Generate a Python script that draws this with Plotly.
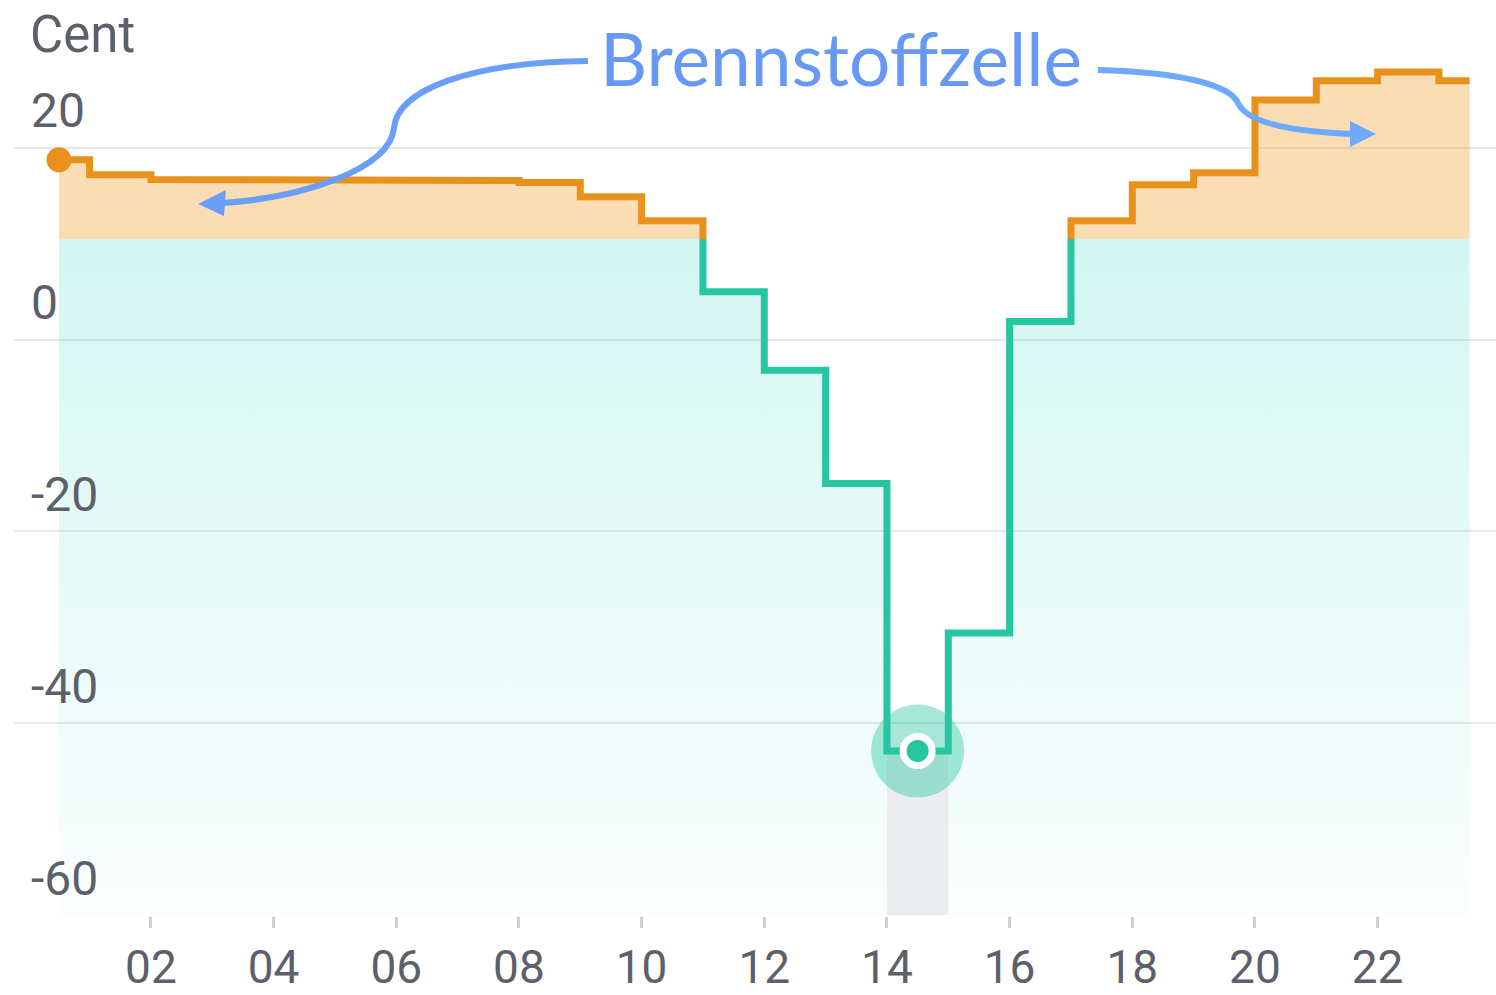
import plotly.graph_objects as go

# hourly price in Cent (step chart), visible window 00:30 - 23:30
hours = list(range(24))
prices = [18.75, 17.2, 16.7, 16.7, 16.7, 16.7, 16.7, 16.6, 16.4, 14.9, 12.4, 5.0,
          -3.2, -15.0, -42.9, -30.6, 1.9, 12.4, 16.15, 17.4, 25.0, 27.0, 27.9, 27.0]
threshold = 10.5          # above -> orange (Brennstoffzelle), below -> green
selected_hour = 14

x_ticks = [2, 4, 6, 8, 10, 12, 14, 16, 18, 20, 22]
x_ticktext = ["02", "04", "06", "08", "10", "12", "14", "16", "18", "20", "22"]
y_ticks = [20, 0, -20, -40, -60]

view_start, view_end = 0.5, 23.5
y_bottom, y_top = -60.1, 35.42

ORANGE = "#E8921C"
GREEN = "#26C6A0"
TEXT = "#5B606B"
BLUE = "#6699F5"
FONT = "Roboto"

W, H = 1496, 995
ML, MB = 14, 79


def step_path(values):
    xs, ys = [], []
    for h, v in zip(hours, values):
        xs += [max(h, view_start), min(h + 1, view_end)]
        ys += [v, v]
    return xs, ys


def clip_path(xs, ys, keep):
    px, py = [], []
    for xa, ya, xb, yb in zip(xs[:-1], ys[:-1], xs[1:], ys[1:]):
        ina, inb = keep(ya), keep(yb)
        if not ina and not inb:
            continue
        if ina != inb:
            t = (threshold - ya) / (yb - ya)
            xc = xa + t * (xb - xa)
            if ina:
                xb, yb = xc, threshold
            else:
                xa, ya = xc, threshold
        if px and px[-1] == xa and py[-1] == ya:
            px.append(xb)
            py.append(yb)
        else:
            if px:
                px.append(None)
                py.append(None)
            px += [xa, xb]
            py += [ya, yb]
    return px, py


def paper_x(x):
    return (x - ML) / (W - ML)


def paper_y(y):
    return (H - MB - y) / (H - MB)


def to_paper(points):
    return [(paper_x(x), paper_y(y)) for x, y in points]


def bezier_path(points):
    p = to_paper(points)
    s = "M %.4f,%.4f" % p[0]
    for i in range(1, len(p), 3):
        s += " C %.4f,%.4f %.4f,%.4f %.4f,%.4f" % (p[i] + p[i + 1] + p[i + 2])
    return s


def tri_path(points):
    p = to_paper(points)
    return "M %.4f,%.4f L %.4f,%.4f L %.4f,%.4f Z" % (p[0] + p[1] + p[2])


xs, ys = step_path(prices)
low = [min(v, threshold) for v in ys]
high = [max(v, threshold) for v in ys]

fig = go.Figure()

# green area below the threshold, fading out to the bottom
fig.add_trace(go.Scatter(
    x=xs + [view_end, view_start], y=low + [y_bottom, y_bottom],
    mode="none", fill="toself",
    fillgradient=dict(type="vertical", start=-60, stop=threshold,
                      colorscale=[[0, "rgba(30,212,185,0.015)"],
                                  [0.28, "rgba(30,212,185,0.07)"],
                                  [0.57, "rgba(30,212,185,0.115)"],
                                  [1, "rgba(30,212,185,0.2)"]]),
    hoverinfo="skip"))

# orange area above the threshold
fig.add_trace(go.Scatter(
    x=xs + [view_end, view_start], y=high + [threshold, threshold],
    mode="none", fill="toself", fillcolor="rgba(243,170,70,0.4)",
    hoverinfo="skip"))

# highlighted hour
sel = prices[selected_hour]
fig.add_trace(go.Scatter(
    x=[selected_hour, selected_hour + 1, selected_hour + 1, selected_hour],
    y=[-60, -60, sel, sel],
    mode="none", fill="toself", fillcolor="#ECEDEF", hoverinfo="skip"))

# halo around the selected value
fig.add_trace(go.Scatter(
    x=[selected_hour + 0.5], y=[sel], mode="markers",
    marker=dict(size=93, color="rgba(40,200,160,0.42)"), hoverinfo="skip"))

# price line, green below / orange above the threshold
gx, gy = clip_path(xs, ys, lambda v: v <= threshold)
ox, oy = clip_path(xs, ys, lambda v: v >= threshold)
fig.add_trace(go.Scatter(x=gx, y=gy, mode="lines",
                         line=dict(color=GREEN, width=7), hoverinfo="skip"))
fig.add_trace(go.Scatter(x=ox, y=oy, mode="lines",
                         line=dict(color=ORANGE, width=7), hoverinfo="skip"))

fig.add_trace(go.Scatter(
    x=[selected_hour + 0.5], y=[sel], mode="markers",
    marker=dict(size=29, color=GREEN, line=dict(color="white", width=7)),
    hoverinfo="skip"))
fig.add_trace(go.Scatter(
    x=[view_start], y=[prices[0]], mode="markers",
    marker=dict(size=25, color=ORANGE), hoverinfo="skip"))

# y labels sit above their grid lines
annotations = []
for v in y_ticks:
    annotations.append(dict(
        x=paper_x(29), xref="paper", xanchor="left",
        y=v, yref="y", yanchor="middle", yshift=37,
        text=str(v), showarrow=False, font=dict(family=FONT, size=48, color=TEXT)))
annotations.append(dict(
    x=paper_x(28), xref="paper", xanchor="left",
    y=paper_y(34), yref="paper", yanchor="middle",
    text="Cent", showarrow=False, font=dict(family=FONT, size=51, color=TEXT)))
annotations.append(dict(
    x=paper_x(841), xref="paper", xanchor="center",
    y=paper_y(58), yref="paper", yanchor="middle",
    text="Brennstoffzelle", showarrow=False,
    font=dict(family="Lato", size=73, color=BLUE)))

# curved arrows from the label
shapes = [
    dict(type="path", xref="paper", yref="paper", line=dict(color="#6A9EF8", width=6),
         path=bezier_path([(588, 61), (470, 62), (397, 90), (394, 128),
                           (390, 170), (300, 198), (222, 203)])),
    dict(type="path", xref="paper", yref="paper", line=dict(color="#6A9EF8", width=0),
         fillcolor="#6A9EF8",
         path=tri_path([(198, 204), (226, 190), (224, 216)])),
    dict(type="path", xref="paper", yref="paper", line=dict(color="#6EA9FC", width=6),
         path=bezier_path([(1098, 70), (1180, 72), (1230, 85), (1238, 103),
                           (1248, 125), (1300, 132), (1352, 134)])),
    dict(type="path", xref="paper", yref="paper", line=dict(color="#6EA9FC", width=0),
         fillcolor="#6EA9FC",
         path=tri_path([(1376, 134), (1350, 121), (1350, 147)])),
]

fig.update_layout(
    width=W, height=H,
    margin=dict(l=ML, r=0, t=0, b=MB),
    plot_bgcolor="white", paper_bgcolor="white",
    showlegend=False,
    annotations=annotations,
    shapes=shapes,
    xaxis=dict(range=[-0.233, 23.93], tickvals=x_ticks, ticktext=x_ticktext,
               ticks="outside", ticklen=11, tickwidth=3, tickcolor="#CDCFD3",
               ticklabelstandoff=0, automargin=False,
               showgrid=False, zeroline=False, showline=False,
               tickfont=dict(family=FONT, size=46, color=TEXT)),
    yaxis=dict(range=[y_bottom, y_top], tickvals=y_ticks, showticklabels=False,
               automargin=False,
               showgrid=True, gridcolor="#E6E7E9", gridwidth=2, zeroline=False),
)

# drop the default 8px page margin so the figure fills the window exactly
fig.write_html("out.html", config={"displayModeBar": False},
               post_script="document.body.style.margin = '0px';")
